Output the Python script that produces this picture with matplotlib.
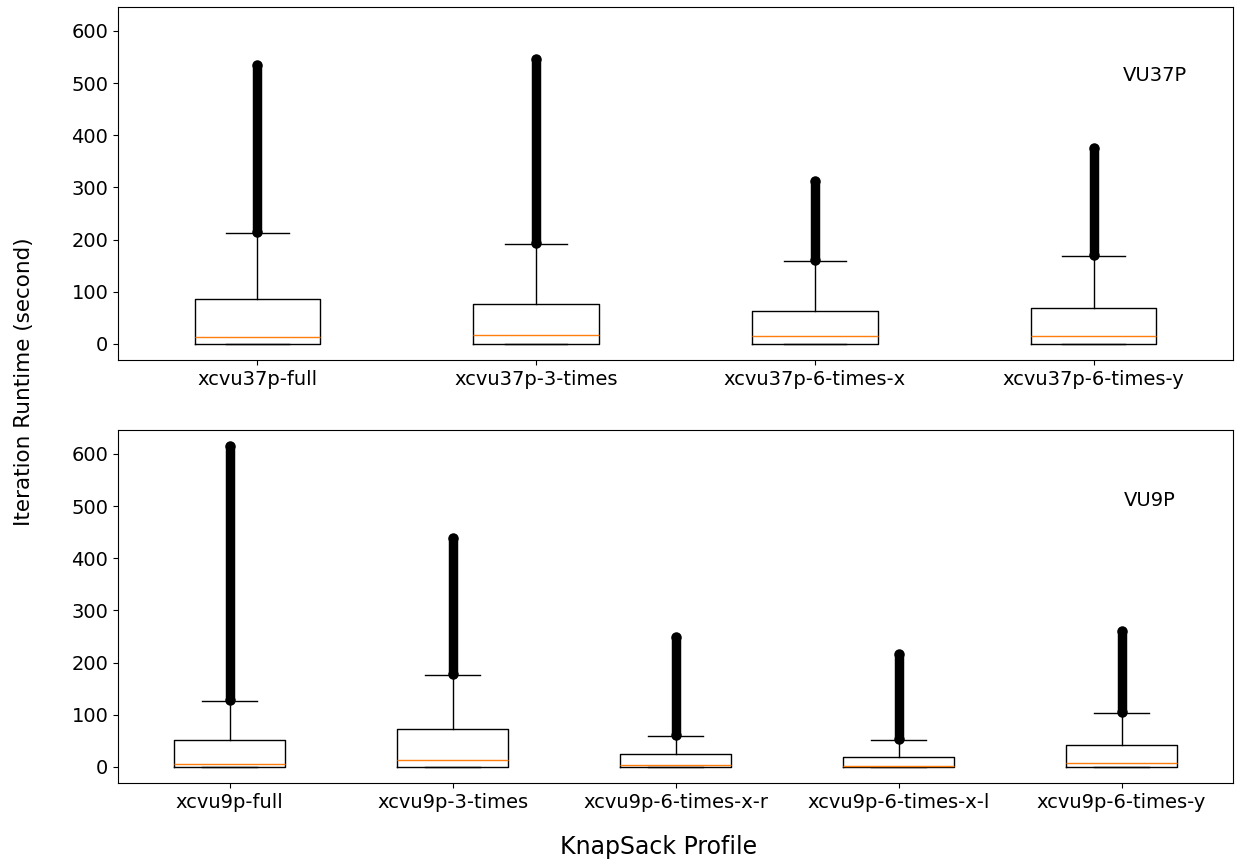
import matplotlib
matplotlib.use("Agg")
import matplotlib.pyplot as plt

# ---- data ----
top_labels = ["xcvu37p-full", "xcvu37p-3-times", "xcvu37p-6-times-x", "xcvu37p-6-times-y"]
top_q1 = [0, 0, 0, 0]
top_med = [14, 17, 15, 16]
top_q3 = [86, 77, 63, 68]
top_wlo = [0, 0, 0, 0]
top_whi = [213, 191, 159, 168]
top_flier_lo = [215, 193, 161, 170]
top_flier_hi = [535, 547, 313, 375]

bot_labels = ["xcvu9p-full", "xcvu9p-3-times", "xcvu9p-6-times-x-r", "xcvu9p-6-times-x-l", "xcvu9p-6-times-y"]
bot_q1 = [0, 0, 0, 0, 0]
bot_med = [5, 14, 3, 2, 8]
bot_q3 = [51, 72, 24, 20, 42]
bot_wlo = [0, 0, 0, 0, 0]
bot_whi = [127, 177, 60, 51, 104]
bot_flier_lo = [129, 179, 62, 53, 106]
bot_flier_hi = [615, 438, 249, 216, 260]

panel_names = ["VU37P", "VU9P"]

W, H = 1235, 861
fig = plt.figure(figsize=(W / 100, H / 100), dpi=100)
ax1 = fig.add_axes([118 / W, 1 - 360 / H, 1115 / W, 353 / H])
ax2 = fig.add_axes([118 / W, 1 - 783 / H, 1115 / W, 353 / H], sharey=ax1)


def draw(ax, labels, q1, med, q3, wlo, whi, flo, fhi, width, name, tx, ty):
    stats = []
    for i in range(len(labels)):
        stats.append(dict(label=labels[i], q1=q1[i], med=med[i], q3=q3[i],
                          whislo=wlo[i], whishi=whi[i], fliers=[flo[i], fhi[i]]))
    pos = list(range(1, len(labels) + 1))
    ax.bxp(stats, positions=pos, widths=width,
           flierprops=dict(marker='o', markerfacecolor='none', markeredgecolor='black',
                           markersize=6.5, zorder=4))
    ax.vlines(pos, flo, fhi, colors='black', linewidth=6.8, capstyle='round', zorder=3)
    ax.tick_params(axis='both', labelsize=14)
    ax.text(tx, ty, name, transform=ax.transAxes, fontsize=14, ha='center', va='center')


draw(ax1, top_labels, top_q1, top_med, top_q3, top_wlo, top_whi, top_flier_lo, top_flier_hi,
     0.45, panel_names[0], 0.93, 0.807)
draw(ax2, bot_labels, bot_q1, bot_med, bot_q3, bot_wlo, bot_whi, bot_flier_lo, bot_flier_hi,
     0.5, panel_names[1], 0.925, 0.80)

ax1.set_yticks([0, 100, 200, 300, 400, 500, 600])
ax1.set_ylim(-30.75, 645.75)

fig.text(24 / W, 1 - 382 / H, "Iteration Runtime (second)", rotation=90, fontsize=15.5,
         ha='center', va='center')
fig.text(659 / W, 1 - 847 / H, "KnapSack Profile", fontsize=17, ha='center', va='center')

fig.savefig("out.png", dpi=100)
